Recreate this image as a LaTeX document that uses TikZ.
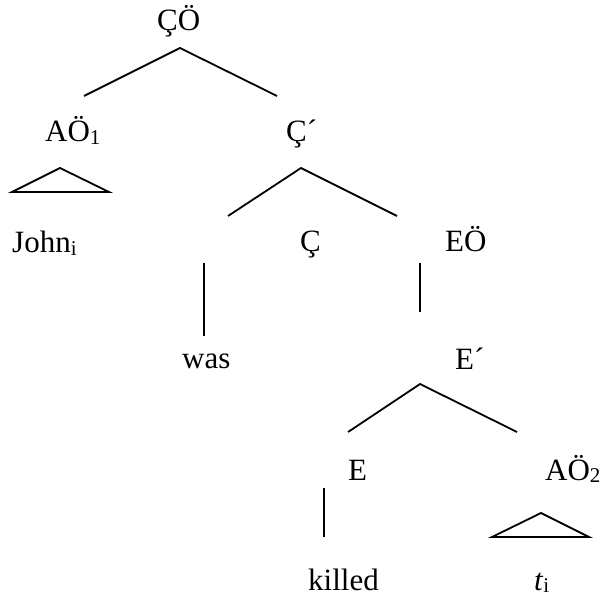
\documentclass[tikz,border=0pt]{standalone}
\usepackage{fontspec}
\setmainfont{Liberation Serif}
% small lowered index for labels and traces
\newcommand{\lsub}[1]{\raisebox{-0.09em}{\fontsize{21}{21}\selectfont #1}}
\begin{document}
\begin{tikzpicture}[x=1pt,y=-1pt,
  lab/.style={inner sep=0pt, anchor=base west, font=\fontsize{31}{37}\selectfont},
  branch/.style={line width=1.8pt, line cap=butt},
  roof/.style={line width=1.8pt, line join=miter}]
\useasboundingbox (0,0) rectangle (605,601);

% labels
\node[lab] (cp)    at (157,31)  {ÇÖ};
\node[lab] (np1)   at (45,142)  {AÖ\lsub{1}};
\node[lab] (cbar)  at (286,142) {Ç´};
\node[lab] (john)  at (12,253)  {John\lsub{i}};
\node[lab] (c)     at (300,252) {Ç};
\node[lab] (ep)    at (445,252) {EÖ};
\node[lab] (was)   at (182,369) {was};
\node[lab] (ebar)  at (455,370) {E´};
\node[lab] (e)     at (348,480) {E};
\node[lab] (np2)   at (545,480) {AÖ\lsub{2}};
\node[lab] (killed) at (308,590) {killed};
\node[lab] (trace) at (534,590) {\textit{t}\lsub{i}};

% branch points
\coordinate (cpTop)   at (180,48);
\coordinate (cpL)     at (84,96);
\coordinate (cpR)     at (277,96);
\coordinate (cbarTop) at (301,168);
\coordinate (cbarL)   at (228,216);
\coordinate (cbarR)   at (397,216);
\coordinate (cTop)    at (204,263);
\coordinate (cBot)    at (204,336);
\coordinate (epTop)   at (420,263);
\coordinate (epBot)   at (420,312);
\coordinate (ebarTop) at (420,384);
\coordinate (ebarL)   at (348,432);
\coordinate (ebarR)   at (517,432);
\coordinate (eTop)    at (324,488);
\coordinate (eBot)    at (324,537);

% branches
\draw[branch] (cpL) -- (cpTop) -- (cpR);
\draw[branch] (cbarL) -- (cbarTop) -- (cbarR);
\draw[branch] (cTop) -- (cBot);
\draw[branch] (epTop) -- (epBot);
\draw[branch] (ebarL) -- (ebarTop) -- (ebarR);
\draw[branch] (eTop) -- (eBot);

% roofs over unanalysed phrases
\coordinate (r1Top) at (60,168);
\coordinate (r1L)   at (12,192);
\coordinate (r1R)   at (109,192);
\draw[roof] (r1Top) -- (r1L) -- (r1R) -- cycle;
\coordinate (r2Top) at (541,513);
\coordinate (r2L)   at (492,537);
\coordinate (r2R)   at (589,537);
\draw[roof] (r2Top) -- (r2L) -- (r2R) -- cycle;
\end{tikzpicture}
\end{document}
